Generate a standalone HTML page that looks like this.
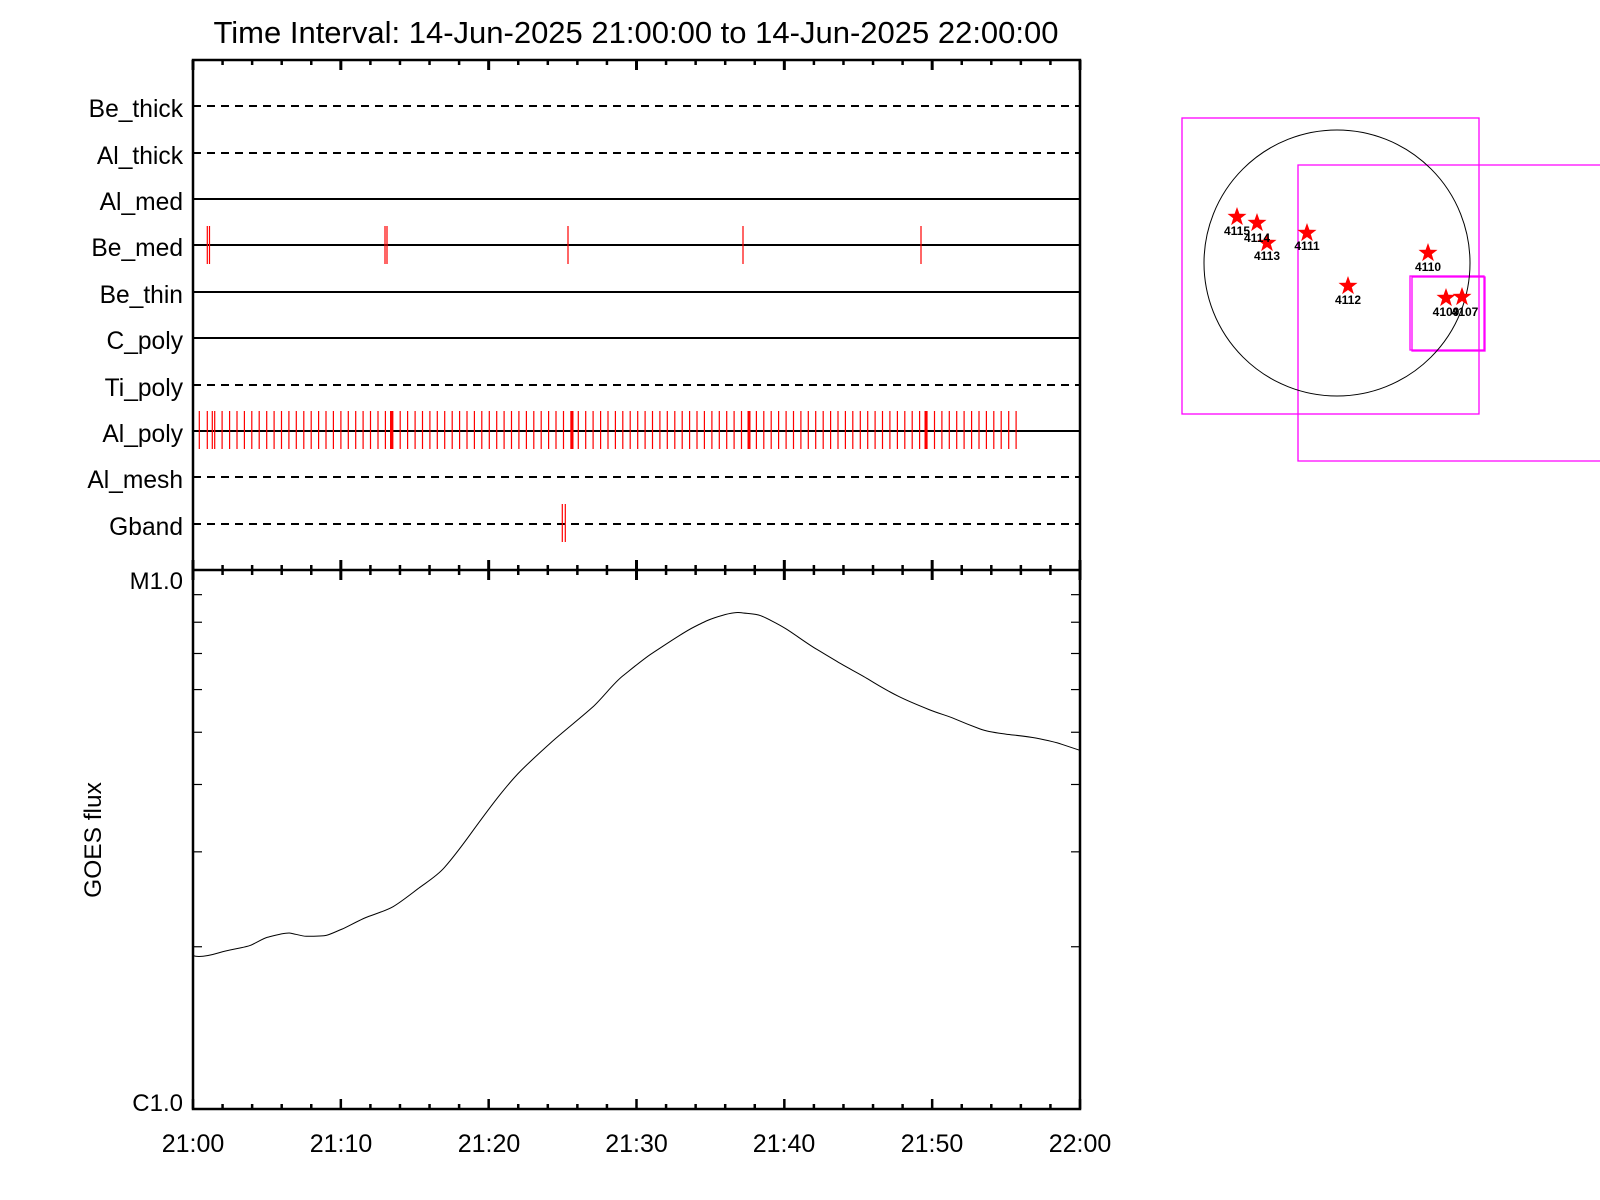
<!DOCTYPE html>
<html><head><meta charset="utf-8"><style>html,body{margin:0;padding:0;background:#fff}svg{display:block}</style></head>
<body>
<svg width="1600" height="1200" viewBox="0 0 1600 1200" xmlns="http://www.w3.org/2000/svg" font-family="Liberation Sans, sans-serif">
<rect width="1600" height="1200" fill="#fff"/>
<text x="636" y="43" font-size="31" text-anchor="middle">Time Interval: 14-Jun-2025 21:00:00 to 14-Jun-2025 22:00:00</text>

<g stroke="#000" stroke-width="2">
<line x1="193" x2="1080" y1="106" y2="106" stroke-dasharray="8,6"/>
<line x1="193" x2="1080" y1="153" y2="153" stroke-dasharray="8,6"/>
<line x1="193" x2="1080" y1="199" y2="199"/>
<line x1="193" x2="1080" y1="245" y2="245"/>
<line x1="193" x2="1080" y1="292" y2="292"/>
<line x1="193" x2="1080" y1="338" y2="338"/>
<line x1="193" x2="1080" y1="385" y2="385" stroke-dasharray="8,6"/>
<line x1="193" x2="1080" y1="431" y2="431"/>
<line x1="193" x2="1080" y1="477" y2="477" stroke-dasharray="8,6"/>
<line x1="193" x2="1080" y1="524" y2="524" stroke-dasharray="8,6"/>
</g>
<g font-size="24.6" text-anchor="end">
<text x="183" y="117">Be_thick</text>
<text x="183" y="164">Al_thick</text>
<text x="183" y="210">Al_med</text>
<text x="183" y="256">Be_med</text>
<text x="183" y="303">Be_thin</text>
<text x="183" y="349">C_poly</text>
<text x="183" y="396">Ti_poly</text>
<text x="183" y="442">Al_poly</text>
<text x="183" y="488">Al_mesh</text>
<text x="183" y="535">Gband</text>
</g>

<g stroke="#f00" stroke-width="1.2">
<line x1="207.3" x2="207.3" y1="226" y2="264"/><line x1="209.5" x2="209.5" y1="226" y2="264"/>
<line x1="385" x2="385" y1="226" y2="264"/><line x1="387" x2="387" y1="226" y2="264"/>
<line x1="568" x2="568" y1="226" y2="264"/>
<line x1="743" x2="743" y1="226" y2="264"/>
<line x1="921" x2="921" y1="226" y2="264"/>
<line x1="562.3" x2="562.3" y1="504" y2="542"/><line x1="565.3" x2="565.3" y1="504" y2="542"/>
<line x1="199.3" x2="199.3" y1="411" y2="449"/><line x1="212.3" x2="212.3" y1="411" y2="449"/>
</g>
<g stroke="#f00" stroke-width="3">
<line x1="391.5" x2="391.5" y1="411" y2="449"/>
<line x1="572" x2="572" y1="411" y2="449"/>
<line x1="749" x2="749" y1="411" y2="449"/>
<line x1="926" x2="926" y1="411" y2="449"/>
</g>
<path id="alp" stroke="#f00" stroke-width="1.2" fill="none" d=""/>

<g stroke="#000" fill="none">
<rect x="193" y="60" width="887" height="1049" stroke-width="2.5"/>
<line x1="193" x2="1080" y1="570" y2="570" stroke-width="2.5"/>
</g>
<g id="xt" stroke="#000"></g>
<g id="yt" stroke="#000" stroke-width="1.2"></g>
<line x1="193" x2="203" y1="570" y2="570" stroke="#000" stroke-width="2"/>

<g font-size="24" text-anchor="end">
<text x="183" y="589">M1.0</text>
<text x="183" y="1111">C1.0</text>
</g>
<text transform="translate(101,840) rotate(-90)" font-size="24.5" text-anchor="middle">GOES flux</text>
<g font-size="25" text-anchor="middle">
<text x="193" y="1152">21:00</text><text x="341" y="1152">21:10</text><text x="489" y="1152">21:20</text>
<text x="636.5" y="1152">21:30</text><text x="784" y="1152">21:40</text><text x="932" y="1152">21:50</text><text x="1080" y="1152">22:00</text>
</g>

<g transform="scale(1.021)">
<path fill="none" stroke="#000" stroke-width="1" stroke-linejoin="round" d="M189,936 C195,938 205,936 215,933 S240,928 245,926 S258,919 262,918 S280,913 285,914 S296,917 300,917 S316,917 320,916 S330,912 335,910 S352,901 360,898 S378,892 385,888 S402,876 410,870 S428,858 435,850 S452,829 460,818 S482,788 490,778 S504,761 510,755 S530,736 540,727 S570,702 580,693 S600,670 610,662 S632,644 640,639 S668,620 680,614 S694,607 700,605 S718,599 725,600 S740,601 745,603 S762,611 770,616 S790,630 800,636 S812,643 820,648 S842,660 850,665 S870,677 880,682 S900,691 910,695 S928,701 935,704 S952,711 960,714 S978,718 985,719 S1005,721 1015,723 S1034,727 1040,729 S1052,733 1058,735"/>
</g>

<g fill="none" stroke="#f0f" stroke-width="1.3">
<rect x="1182" y="118" width="297" height="296"/>
<path d="M1600 165 H1298 V461 H1600"/>
<rect x="1410" y="276" width="74" height="74"/>
<rect x="1412" y="277" width="73" height="74"/>
</g>
<circle cx="1337" cy="263" r="133" fill="none" stroke="#000" stroke-width="1"/>
<g id="stars" fill="#f00"></g>
<g font-size="12" font-weight="bold" text-anchor="middle" fill="#000">
<text x="1237" y="235">4115</text><text x="1257" y="242">4114</text><text x="1267" y="260">4113</text>
<text x="1307" y="250">4111</text><text x="1428" y="271">4110</text><text x="1348" y="304">4112</text>
<text x="1446" y="316">4109</text><text x="1465" y="316">4107</text>
</g>
<script>
var ns="http://www.w3.org/2000/svg";
var d="";for(var k=0;k<=109;k++){var x=207.3+7.42*k;d+="M"+x.toFixed(1)+" 411V449";}
document.getElementById("alp").setAttribute("d",d);
var xt=document.getElementById("xt");
function L(g,x1,y1,x2,y2,w){var l=document.createElementNS(ns,"line");l.setAttribute("x1",x1);l.setAttribute("y1",y1);l.setAttribute("x2",x2);l.setAttribute("y2",y2);l.setAttribute("stroke-width",w);g.appendChild(l);}
for(var m=0;m<=30;m++){var x=193+887*m/30;var maj=(m%5==0);
 if(maj){L(xt,x,60,x,70,3);L(xt,x,560,x,580,3);L(xt,x,1109,x,1099,2.5);}
 else{L(xt,x,60,x,65,2.5);L(xt,x,565,x,575,2.5);L(xt,x,1109,x,1104,2.5);}}
var yt=document.getElementById("yt");
for(var k=2;k<=9;k++){var y=1109-539*Math.log10(k);L(yt,193,y,202,y,1.2);L(yt,1080,y,1071,y,1.2);}
var st=document.getElementById("stars");
var P=[[1237,217],[1257,223],[1267,243],[1307,233],[1428,253],[1348,286],[1446,298],[1462,297]];
P.forEach(function(p){var s="";for(var i=0;i<10;i++){var r=i%2?4:10;var a=-Math.PI/2+i*Math.PI/5;s+=(p[0]+r*Math.cos(a)).toFixed(1)+","+(p[1]+r*Math.sin(a)).toFixed(1)+" ";}
var pg=document.createElementNS(ns,"polygon");pg.setAttribute("points",s);st.appendChild(pg);});
</script>
</svg>
</body></html>
